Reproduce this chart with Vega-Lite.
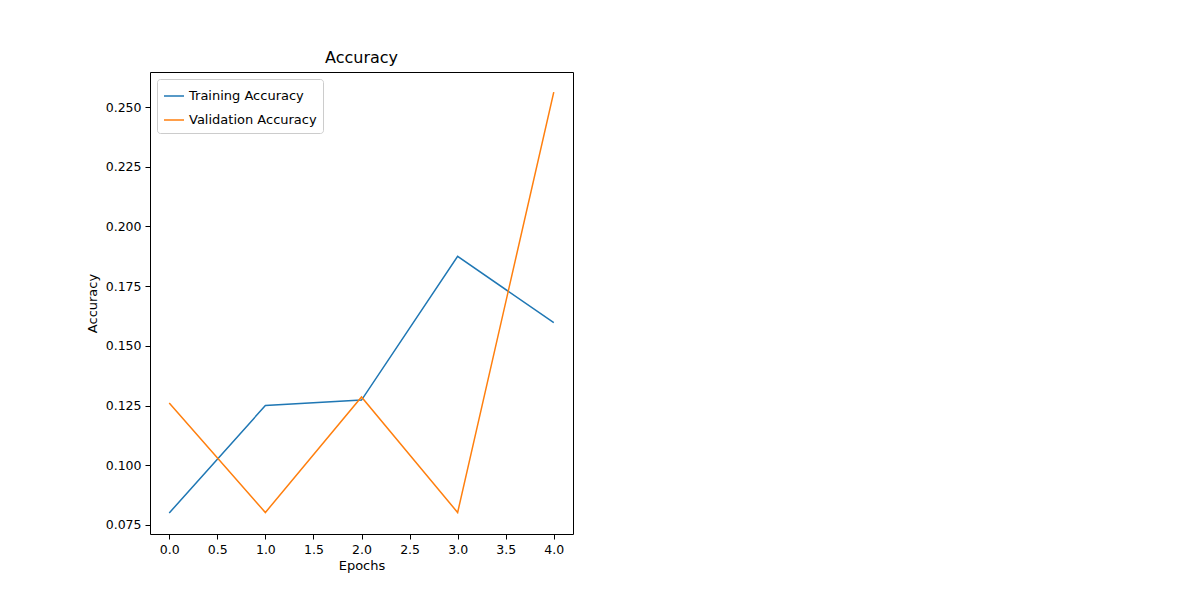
{
  "$schema": "https://vega.github.io/schema/vega-lite/v6.json",
  "width": 423,
  "height": 462,
  "autosize": {"type": "none"},
  "padding": {"left": 150, "top": 72, "right": 627, "bottom": 66},
  "background": "white",
  "config": {
    "font": "DejaVu Sans",
    "view": {"stroke": "black", "strokeWidth": 1},
    "axis": {"grid": false, "domain": false, "tickColor": "black", "tickSize": 5, "labelFontSize": 12.5, "labelColor": "black", "titleFontSize": 13, "titleFontWeight": "normal", "titleColor": "black", "labelPadding": 4}
  },
  "title": {"text": "Accuracy", "fontSize": 16, "fontWeight": "normal", "offset": 6},
  "data": {"values": [
    {"epoch": 0, "acc": 0.080, "series": "Training Accuracy"},
    {"epoch": 1, "acc": 0.125, "series": "Training Accuracy"},
    {"epoch": 2, "acc": 0.1273, "series": "Training Accuracy"},
    {"epoch": 3, "acc": 0.1875, "series": "Training Accuracy"},
    {"epoch": 4, "acc": 0.1597, "series": "Training Accuracy"},
    {"epoch": 0, "acc": 0.1261, "series": "Validation Accuracy"},
    {"epoch": 1, "acc": 0.0802, "series": "Validation Accuracy"},
    {"epoch": 2, "acc": 0.1286, "series": "Validation Accuracy"},
    {"epoch": 3, "acc": 0.0802, "series": "Validation Accuracy"},
    {"epoch": 4, "acc": 0.2563, "series": "Validation Accuracy"}
  ]},
  "mark": {"type": "line", "strokeWidth": 1.5},
  "encoding": {
    "x": {"field": "epoch", "type": "quantitative", "title": "Epochs",
      "scale": {"domain": [-0.2, 4.2], "nice": false, "zero": false},
      "axis": {"values": [0, 0.5, 1, 1.5, 2, 2.5, 3, 3.5, 4], "format": ".1f", "labelFlush": false, "titlePadding": 4}},
    "y": {"field": "acc", "type": "quantitative", "title": "Accuracy",
      "scale": {"domain": [0.0712, 0.2647], "nice": false, "zero": false},
      "axis": {"values": [0.075, 0.1, 0.125, 0.15, 0.175, 0.2, 0.225, 0.25], "format": ".3f", "labelFlush": false, "titlePadding": 6}},
    "color": {"field": "series", "type": "nominal",
      "scale": {"domain": ["Training Accuracy", "Validation Accuracy"], "range": ["#1f77b4", "#ff7f0e"]},
      "legend": {"title": null, "orient": "top-left", "symbolType": "stroke", "symbolSize": 400, "symbolStrokeWidth": 1.5, "labelFontSize": 13, "labelColor": "black", "strokeColor": "#cccccc", "fillColor": "white", "padding": 6, "cornerRadius": 3, "offset": 7, "rowPadding": 6}}
  }
}
